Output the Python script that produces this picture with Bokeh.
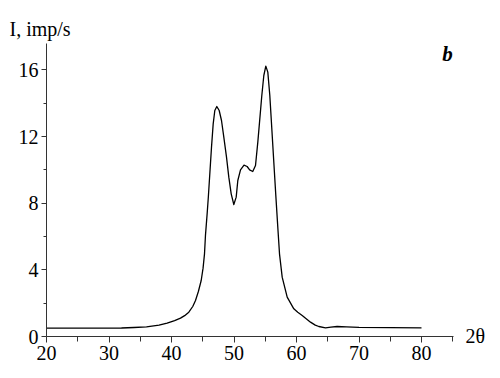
from bokeh.plotting import figure
from bokeh.models import Label, FixedTicker, Range1d
from bokeh.embed import file_html
from bokeh.resources import INLINE

two_theta = [20, 25, 30, 32, 34, 36, 38, 39.3, 40.5, 41.44, 42.1, 42.77, 43.4, 43.84, 44.3,
             44.75, 45.05, 45.28, 45.44, 45.71, 45.9, 46.13, 46.4, 46.67, 46.93, 47.25, 47.63,
             48.0, 48.37, 48.8, 49.17, 49.55, 49.97, 50.35, 50.61, 51.04, 51.6, 52.1, 52.5,
             53.0, 53.44, 53.81, 54.13, 54.45, 54.77, 55.09, 55.41, 55.73, 56.05, 56.37,
             56.69, 57.0, 57.28, 57.71, 58.51, 59.57, 60.2, 60.91, 61.6, 62.24, 63.0, 63.57,
             64.64, 65.5, 66.5, 68, 70, 75, 80]
intensity = [0.5, 0.5, 0.5, 0.51, 0.54, 0.58, 0.68, 0.8, 0.95, 1.1, 1.25, 1.46, 1.8, 2.16, 2.7,
             3.36, 4.1, 4.96, 6.1, 7.4, 8.4, 9.76, 11.36, 12.76, 13.56, 13.8, 13.56,
             12.96, 11.96, 10.76, 9.56, 8.56, 7.92, 8.36, 9.36, 10.0, 10.28, 10.2, 10.0,
             9.9, 10.26, 11.66, 13.06, 14.46, 15.66, 16.22, 15.86, 14.46, 12.46, 10.46,
             8.46, 6.6, 4.96, 3.56, 2.36, 1.66, 1.45, 1.26, 1.05, 0.86, 0.68, 0.6,
             0.52, 0.56, 0.6, 0.58, 0.55, 0.53, 0.52]

x_ticks = [20, 30, 40, 50, 60, 70, 80]
x_minor = [25, 35, 45, 55, 65, 75, 85]
y_ticks = [0, 4, 8, 12, 16]
y_minor = [2, 6, 10, 14]

FONT = "serif"

p = figure(width=500, height=378, output_backend="svg", toolbar_location=None,
           x_range=Range1d(12.64, 92.64), y_range=Range1d(-2.52, 20.16),
           min_border=0)
p.outline_line_color = None
p.grid.visible = False
p.background_fill_color = "white"
p.border_fill_color = "white"

p.line(two_theta, intensity, line_color="black", line_width=1.3, line_join="round")

xa = p.xaxis[0]
ya = p.yaxis[0]
xa.fixed_location = 0
ya.fixed_location = 20
xa.bounds = (20, 85.1)
ya.bounds = (0, 17.58)

for ax in (xa, ya):
    ax.axis_line_color = "#333333"
    ax.major_tick_line_color = "#333333"
    ax.minor_tick_line_color = "#333333"
    ax.major_label_text_font = FONT
    ax.major_label_text_font_size = "20px"
    ax.major_label_text_font_style = "normal"
    ax.major_label_text_color = "black"
    ax.major_tick_in = 0
    ax.minor_tick_in = 0

xa.ticker = FixedTicker(ticks=x_ticks, minor_ticks=x_minor)
ya.ticker = FixedTicker(ticks=y_ticks, minor_ticks=y_minor)
xa.major_tick_out = 6
xa.minor_tick_out = 5
xa.major_label_standoff = 3
ya.major_tick_out = 5
ya.minor_tick_out = 3
ya.major_label_standoff = 3

p.add_layout(Label(x=14.08, y=18.48, text="I, imp/s", text_font=FONT, text_font_size="20px",
                   text_baseline="middle", text_align="left", text_color="black"))
p.add_layout(Label(x=84.16, y=16.98, text="b", text_font=FONT, text_font_size="21px",
                   text_font_style="bold italic", text_baseline="middle", text_align="center",
                   text_color="black"))
p.add_layout(Label(x=87.04, y=0.06, text="2θ", text_font=FONT, text_font_size="20px",
                   text_baseline="middle", text_align="left", text_color="black"))

open("out.html", "w").write(file_html(p, INLINE))
